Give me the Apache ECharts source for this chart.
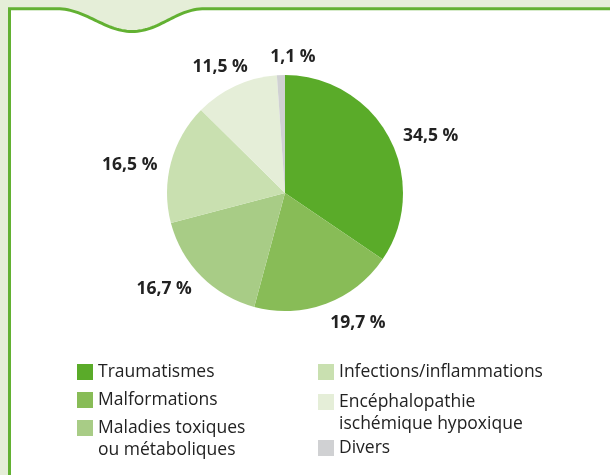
<!DOCTYPE html>
<html>
<head>
<meta charset="utf-8">
<script src="https://cdn.jsdelivr.net/npm/echarts@6/dist/echarts.min.js"></script>
<style>
html,body{margin:0;padding:0;background:#e5eed8;}
#chart{width:610px;height:475px;}
</style>
</head>
<body>
<div id="chart"></div>
<script>
// ---- data ----
const categories = ['Traumatismes', 'Malformations', 'Maladies toxiques ou métaboliques', 'Infections/inflammations', 'Encéphalopathie ischémique hypoxique', 'Divers'];
const legendText = ['Traumatismes', 'Malformations', 'Maladies toxiques\nou métaboliques', 'Infections/inflammations', 'Encéphalopathie\nischémique hypoxique', 'Divers'];
const values = [34.5, 19.7, 16.7, 16.5, 11.5, 1.1];

// ---- styles ----
const colors = ['#5aab29', '#88bc57', '#a8cc86', '#c9e0b0', '#e5eed8', '#d0d1d3'];
const labelShift = [[-2, 4], [-5, 8], [4, 4], [3, 6], [22, -8], [40, -6]];
const legendPos = [[77, 364, 1], [77, 392, 1], [77, 418, 2], [318, 364, 1], [318, 392, 2], [318, 440, 1]];
const FONT = '"Open Sans", "Noto Sans", sans-serif';

// decorative panel outline with a wave tab
function bez(p0, p1, p2, p3, n) {
  const pts = [];
  for (let k = 1; k <= n; k++) {
    const t = k / n, u = 1 - t;
    pts.push([
      u*u*u*p0[0] + 3*u*u*t*p1[0] + 3*u*t*t*p2[0] + t*t*t*p3[0],
      u*u*u*p0[1] + 3*u*u*t*p1[1] + 3*u*t*t*p2[1] + t*t*t*p3[1]
    ]);
  }
  return pts;
}
const TOP = 8.7, LEFTX = 9.5;
let panel = [[LEFTX, 490], [LEFTX, TOP], [57, TOP]];
panel = panel.concat(bez([57, TOP], [85, TOP], [105, 31.5], [132, 31.5], 30));
panel = panel.concat(bez([132, 31.5], [160, 31.5], [176, TOP], [205, TOP], 30));
panel = panel.concat([[625, TOP], [625, 490]]);

const chart = echarts.init(document.getElementById('chart'), null, {renderer: 'canvas'});

const legends = categories.map(function (name, i) {
  const p = legendPos[i];
  return {
    left: p[0], top: p[1] - (p[2] === 2 ? 23 : 3),
    padding: 0,
    orient: 'vertical',
    itemWidth: 16, itemHeight: 16,
    icon: 'rect',
    selectedMode: false,
    data: [name],
    formatter: function () { return (p[2] === 2 ? '\n' : '') + legendText[i]; },
    textStyle: {fontFamily: FONT, fontSize: 17.5, color: '#222', lineHeight: 22}
  };
});

chart.setOption({
  backgroundColor: '#e5eed8',
  animation: false,
  color: colors,
  graphic: [{
    type: 'polygon',
    z: -10,
    shape: {points: panel},
    style: {fill: '#ffffff', stroke: '#62b132', lineWidth: 3}
  }],
  legend: legends,
  series: [{
    type: 'pie',
    center: [285, 193],
    radius: [0, 118],
    startAngle: 90,
    clockwise: true,
    avoidLabelOverlap: false,
    itemStyle: {borderWidth: 0},
    label: {
      show: true,
      position: 'outside',
      fontFamily: FONT,
      fontSize: 17.5,
      fontWeight: 'bold',
      color: '#222',
      formatter: function (p) { return p.value.toFixed(1).replace('.', ',') + ' %'; }
    },
    labelLine: {show: false, length: 12, length2: 0},
    labelLayout: function (params) {
      const s = labelShift[params.dataIndex];
      return {dx: s[0], dy: s[1]};
    },
    emphasis: {disabled: true},
    data: categories.map(function (n, i) { return {name: n, value: values[i]}; })
  }]
});
</script>
</body>
</html>
